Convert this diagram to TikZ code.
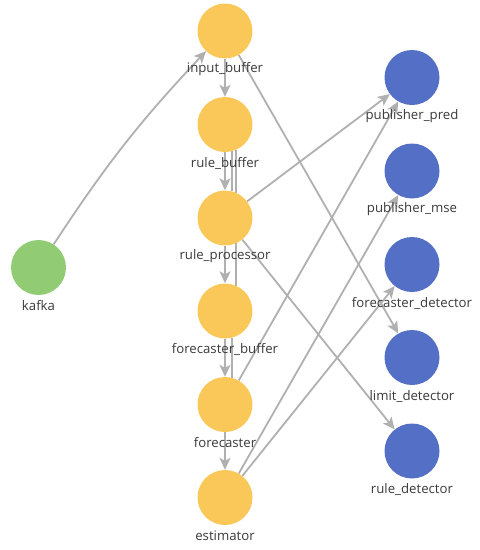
\documentclass[tikz,border=0pt]{standalone}
\usepackage{fontspec}
\setmainfont{Open Sans}
\usetikzlibrary{arrows.meta,backgrounds}
\definecolor{cyel}{HTML}{FAC858}
\definecolor{cblu}{HTML}{5470C6}
\definecolor{cgrn}{HTML}{91CC75}
\definecolor{cedge}{HTML}{B0B0B0}
\definecolor{ctxt}{HTML}{3A3A3A}
\tikzset{
  dot/.style={circle,minimum size=55pt,inner sep=0pt,draw=none},
  ydot/.style={dot,fill=cyel},
  bdot/.style={dot,fill=cblu},
  gdot/.style={dot,fill=cgrn},
  lbl/.style={font=\fontsize{13.2}{15}\selectfont,text=ctxt,inner sep=0pt,anchor=center},
  link/.style={draw=cedge,line width=1.8pt,-{Stealth[length=12pt,width=11pt,inset=3pt]}},
  plain/.style={draw=cedge,line width=1.8pt},
}
\begin{document}
\begin{tikzpicture}[x=1pt,y=-1pt]
\useasboundingbox (0,0) rectangle (480,550);
% nodes
\node[ydot] (input_buffer) at (225,31) {};
\node[ydot] (rule_buffer) at (225,124.5) {};
\node[ydot] (rule_processor) at (225,218) {};
\node[ydot] (forecaster_buffer) at (225,311) {};
\node[ydot] (forecaster) at (225,404.5) {};
\node[ydot] (estimator) at (225,497.5) {};
\node[gdot] (kafka) at (38.5,267.5) {};
\node[bdot] (publisher_pred) at (412,77.5) {};
\node[bdot] (publisher_mse) at (412,171) {};
\node[bdot] (forecaster_detector) at (412,264.5) {};
\node[bdot] (limit_detector) at (412,357.5) {};
\node[bdot] (rule_detector) at (412,451) {};
% labels
\node[lbl] (l_input_buffer) at (225,69.5) {input\_buffer};
\node[lbl] (l_rule_buffer) at (225,163) {rule\_buffer};
\node[lbl] (l_rule_processor) at (225,256.5) {rule\_processor};
\node[lbl] (l_forecaster_buffer) at (225,349.5) {forecaster\_buffer};
\node[lbl] (l_forecaster) at (225,443) {forecaster};
\node[lbl] (l_estimator) at (225,536) {estimator};
\node[lbl] (l_kafka) at (38.5,306) {kafka};
\node[lbl] (l_publisher_pred) at (412,116) {publisher\_pred};
\node[lbl] (l_publisher_mse) at (412,209.5) {publisher\_mse};
\node[lbl] (l_forecaster_detector) at (412,303) {forecaster\_detector};
\node[lbl] (l_limit_detector) at (412,396) {limit\_detector};
\node[lbl] (l_rule_detector) at (412,489.5) {rule\_detector};
% edges
\begin{scope}[on background layer]
\draw[link] (kafka) to[bend left=5] (input_buffer);
\draw[link] (input_buffer) -- (rule_buffer);
\draw[link] (input_buffer) -- (limit_detector);
\draw[link] (rule_buffer) -- (rule_processor);
\draw[plain] (rule_buffer.-76) -- (rule_processor.76);
\draw[plain] (rule_buffer.-67) -- (forecaster_buffer.67);
\draw[link] (rule_processor) -- (forecaster_buffer);
\draw[link] (rule_processor) -- (publisher_pred);
\draw[link] (rule_processor) -- (rule_detector);
\draw[link] (forecaster_buffer) -- (forecaster);
\draw[plain] (forecaster_buffer.-76) -- (forecaster.76);
\draw[link] (forecaster) -- (estimator);
\draw[link] (forecaster) -- (publisher_pred);
\draw[link] (estimator) -- (publisher_mse);
\draw[link] (estimator) -- (forecaster_detector);
\end{scope}
\end{tikzpicture}
\end{document}
